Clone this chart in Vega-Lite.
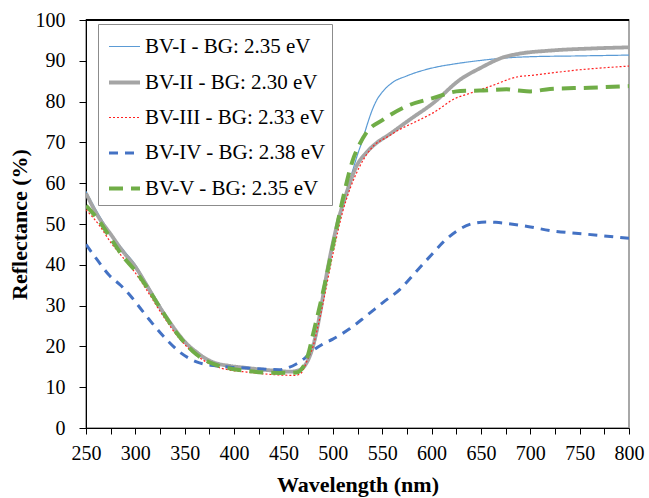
{
  "$schema": "https://vega.github.io/schema/vega-lite/v6.json",
  "width": 543,
  "height": 408,
  "autosize": {"type": "none"},
  "padding": {"left": 86, "top": 20, "right": 20, "bottom": 70},
  "background": "white",
  "config": {
    "font": "Liberation Serif",
    "view": {"stroke": "#8c8c8c", "strokeWidth": 1.5},
    "axis": {"grid": false, "domainColor": "#000000", "tickColor": "#000000", "labelColor": "#000000", "titleColor": "#000000", "labelFont": "Liberation Serif", "titleFont": "Liberation Serif"}
  },
  "data": {
    "values": [
      {"s": "BV-I - BG: 2.35 eV", "w": 250, "r": 58}, {"s": "BV-I - BG: 2.35 eV", "w": 260, "r": 53.5}, {"s": "BV-I - BG: 2.35 eV", "w": 270, "r": 49.5}, {"s": "BV-I - BG: 2.35 eV", "w": 280, "r": 46}, {"s": "BV-I - BG: 2.35 eV", "w": 290, "r": 43}, {"s": "BV-I - BG: 2.35 eV", "w": 300, "r": 40}, {"s": "BV-I - BG: 2.35 eV", "w": 310, "r": 36}, {"s": "BV-I - BG: 2.35 eV", "w": 320, "r": 32}, {"s": "BV-I - BG: 2.35 eV", "w": 330, "r": 28}, {"s": "BV-I - BG: 2.35 eV", "w": 340, "r": 24.2}, {"s": "BV-I - BG: 2.35 eV", "w": 350, "r": 21.2}, {"s": "BV-I - BG: 2.35 eV", "w": 360, "r": 19}, {"s": "BV-I - BG: 2.35 eV", "w": 370, "r": 17.2}, {"s": "BV-I - BG: 2.35 eV", "w": 380, "r": 16}, {"s": "BV-I - BG: 2.35 eV", "w": 390, "r": 15.3}, {"s": "BV-I - BG: 2.35 eV", "w": 400, "r": 14.8}, {"s": "BV-I - BG: 2.35 eV", "w": 420, "r": 14.5}, {"s": "BV-I - BG: 2.35 eV", "w": 440, "r": 14.2}, {"s": "BV-I - BG: 2.35 eV", "w": 455, "r": 13.8}, {"s": "BV-I - BG: 2.35 eV", "w": 465, "r": 14.2}, {"s": "BV-I - BG: 2.35 eV", "w": 472, "r": 15.5}, {"s": "BV-I - BG: 2.35 eV", "w": 478, "r": 18}, {"s": "BV-I - BG: 2.35 eV", "w": 484, "r": 23}, {"s": "BV-I - BG: 2.35 eV", "w": 490, "r": 32}, {"s": "BV-I - BG: 2.35 eV", "w": 500, "r": 45}, {"s": "BV-I - BG: 2.35 eV", "w": 510, "r": 55}, {"s": "BV-I - BG: 2.35 eV", "w": 515, "r": 59}, {"s": "BV-I - BG: 2.35 eV", "w": 520, "r": 63}, {"s": "BV-I - BG: 2.35 eV", "w": 525, "r": 67}, {"s": "BV-I - BG: 2.35 eV", "w": 530, "r": 70.5}, {"s": "BV-I - BG: 2.35 eV", "w": 535, "r": 74.5}, {"s": "BV-I - BG: 2.35 eV", "w": 540, "r": 78}, {"s": "BV-I - BG: 2.35 eV", "w": 545, "r": 80.6}, {"s": "BV-I - BG: 2.35 eV", "w": 550, "r": 82.3}, {"s": "BV-I - BG: 2.35 eV", "w": 560, "r": 84.6}, {"s": "BV-I - BG: 2.35 eV", "w": 575, "r": 86.3}, {"s": "BV-I - BG: 2.35 eV", "w": 600, "r": 88.2}, {"s": "BV-I - BG: 2.35 eV", "w": 625, "r": 89.3}, {"s": "BV-I - BG: 2.35 eV", "w": 650, "r": 90.1}, {"s": "BV-I - BG: 2.35 eV", "w": 675, "r": 90.7}, {"s": "BV-I - BG: 2.35 eV", "w": 700, "r": 91}, {"s": "BV-I - BG: 2.35 eV", "w": 750, "r": 91.2}, {"s": "BV-I - BG: 2.35 eV", "w": 800, "r": 91.4},

      {"s": "BV-II - BG: 2.30 eV", "w": 250, "r": 57.5}, {"s": "BV-II - BG: 2.30 eV", "w": 264, "r": 51.2}, {"s": "BV-II - BG: 2.30 eV", "w": 275, "r": 47.5}, {"s": "BV-II - BG: 2.30 eV", "w": 287, "r": 43.4}, {"s": "BV-II - BG: 2.30 eV", "w": 300, "r": 39.5}, {"s": "BV-II - BG: 2.30 eV", "w": 311, "r": 35.2}, {"s": "BV-II - BG: 2.30 eV", "w": 320, "r": 31.5}, {"s": "BV-II - BG: 2.30 eV", "w": 328, "r": 28.4}, {"s": "BV-II - BG: 2.30 eV", "w": 337, "r": 25.2}, {"s": "BV-II - BG: 2.30 eV", "w": 345, "r": 22.6}, {"s": "BV-II - BG: 2.30 eV", "w": 353, "r": 20.4}, {"s": "BV-II - BG: 2.30 eV", "w": 362, "r": 18.6}, {"s": "BV-II - BG: 2.30 eV", "w": 370, "r": 17.2}, {"s": "BV-II - BG: 2.30 eV", "w": 379, "r": 16.1}, {"s": "BV-II - BG: 2.30 eV", "w": 396, "r": 15.2}, {"s": "BV-II - BG: 2.30 eV", "w": 410, "r": 14.8}, {"s": "BV-II - BG: 2.30 eV", "w": 429, "r": 14.3}, {"s": "BV-II - BG: 2.30 eV", "w": 445, "r": 14}, {"s": "BV-II - BG: 2.30 eV", "w": 457, "r": 13.8}, {"s": "BV-II - BG: 2.30 eV", "w": 467, "r": 14.3}, {"s": "BV-II - BG: 2.30 eV", "w": 473, "r": 15.8}, {"s": "BV-II - BG: 2.30 eV", "w": 478, "r": 18.5}, {"s": "BV-II - BG: 2.30 eV", "w": 482, "r": 22}, {"s": "BV-II - BG: 2.30 eV", "w": 487, "r": 28}, {"s": "BV-II - BG: 2.30 eV", "w": 494, "r": 38}, {"s": "BV-II - BG: 2.30 eV", "w": 504, "r": 49.5}, {"s": "BV-II - BG: 2.30 eV", "w": 514, "r": 57.7}, {"s": "BV-II - BG: 2.30 eV", "w": 524, "r": 64.2}, {"s": "BV-II - BG: 2.30 eV", "w": 534, "r": 67.5}, {"s": "BV-II - BG: 2.30 eV", "w": 545, "r": 70}, {"s": "BV-II - BG: 2.30 eV", "w": 555, "r": 71.6}, {"s": "BV-II - BG: 2.30 eV", "w": 578, "r": 75.6}, {"s": "BV-II - BG: 2.30 eV", "w": 602, "r": 79.7}, {"s": "BV-II - BG: 2.30 eV", "w": 629, "r": 85.4}, {"s": "BV-II - BG: 2.30 eV", "w": 650, "r": 88.3}, {"s": "BV-II - BG: 2.30 eV", "w": 672, "r": 90.8}, {"s": "BV-II - BG: 2.30 eV", "w": 688, "r": 91.7}, {"s": "BV-II - BG: 2.30 eV", "w": 720, "r": 92.5}, {"s": "BV-II - BG: 2.30 eV", "w": 760, "r": 93}, {"s": "BV-II - BG: 2.30 eV", "w": 800, "r": 93.3},

      {"s": "BV-III - BG: 2.33 eV", "w": 250, "r": 53.5}, {"s": "BV-III - BG: 2.33 eV", "w": 264, "r": 49.5}, {"s": "BV-III - BG: 2.33 eV", "w": 275, "r": 45.5}, {"s": "BV-III - BG: 2.33 eV", "w": 287, "r": 41.9}, {"s": "BV-III - BG: 2.33 eV", "w": 300, "r": 38}, {"s": "BV-III - BG: 2.33 eV", "w": 311, "r": 34}, {"s": "BV-III - BG: 2.33 eV", "w": 328, "r": 27.5}, {"s": "BV-III - BG: 2.33 eV", "w": 345, "r": 21.8}, {"s": "BV-III - BG: 2.33 eV", "w": 362, "r": 17.8}, {"s": "BV-III - BG: 2.33 eV", "w": 379, "r": 15.3}, {"s": "BV-III - BG: 2.33 eV", "w": 396, "r": 14.2}, {"s": "BV-III - BG: 2.33 eV", "w": 413, "r": 13.7}, {"s": "BV-III - BG: 2.33 eV", "w": 446, "r": 13}, {"s": "BV-III - BG: 2.33 eV", "w": 462, "r": 12.9}, {"s": "BV-III - BG: 2.33 eV", "w": 468, "r": 13.5}, {"s": "BV-III - BG: 2.33 eV", "w": 474, "r": 16.5}, {"s": "BV-III - BG: 2.33 eV", "w": 480, "r": 20}, {"s": "BV-III - BG: 2.33 eV", "w": 485, "r": 25}, {"s": "BV-III - BG: 2.33 eV", "w": 490, "r": 30.5}, {"s": "BV-III - BG: 2.33 eV", "w": 500, "r": 42.5}, {"s": "BV-III - BG: 2.33 eV", "w": 510, "r": 53}, {"s": "BV-III - BG: 2.33 eV", "w": 518, "r": 59}, {"s": "BV-III - BG: 2.33 eV", "w": 527, "r": 64}, {"s": "BV-III - BG: 2.33 eV", "w": 541, "r": 69.1}, {"s": "BV-III - BG: 2.33 eV", "w": 555, "r": 71.3}, {"s": "BV-III - BG: 2.33 eV", "w": 568, "r": 73.2}, {"s": "BV-III - BG: 2.33 eV", "w": 585, "r": 75.2}, {"s": "BV-III - BG: 2.33 eV", "w": 602, "r": 77.3}, {"s": "BV-III - BG: 2.33 eV", "w": 625, "r": 80.9}, {"s": "BV-III - BG: 2.33 eV", "w": 636, "r": 81.8}, {"s": "BV-III - BG: 2.33 eV", "w": 660, "r": 83.8}, {"s": "BV-III - BG: 2.33 eV", "w": 688, "r": 86.1}, {"s": "BV-III - BG: 2.33 eV", "w": 700, "r": 86.4}, {"s": "BV-III - BG: 2.33 eV", "w": 750, "r": 87.8}, {"s": "BV-III - BG: 2.33 eV", "w": 800, "r": 88.7},

      {"s": "BV-IV - BG: 2.38 eV", "w": 250, "r": 45}, {"s": "BV-IV - BG: 2.38 eV", "w": 262, "r": 41}, {"s": "BV-IV - BG: 2.38 eV", "w": 274, "r": 37.3}, {"s": "BV-IV - BG: 2.38 eV", "w": 285, "r": 35}, {"s": "BV-IV - BG: 2.38 eV", "w": 295, "r": 32.4}, {"s": "BV-IV - BG: 2.38 eV", "w": 311, "r": 27.5}, {"s": "BV-IV - BG: 2.38 eV", "w": 328, "r": 22.6}, {"s": "BV-IV - BG: 2.38 eV", "w": 345, "r": 18.6}, {"s": "BV-IV - BG: 2.38 eV", "w": 362, "r": 16.2}, {"s": "BV-IV - BG: 2.38 eV", "w": 379, "r": 15.3}, {"s": "BV-IV - BG: 2.38 eV", "w": 396, "r": 14.9}, {"s": "BV-IV - BG: 2.38 eV", "w": 413, "r": 14.7}, {"s": "BV-IV - BG: 2.38 eV", "w": 446, "r": 14.3}, {"s": "BV-IV - BG: 2.38 eV", "w": 455, "r": 14.8}, {"s": "BV-IV - BG: 2.38 eV", "w": 463, "r": 15.7}, {"s": "BV-IV - BG: 2.38 eV", "w": 472, "r": 17.2}, {"s": "BV-IV - BG: 2.38 eV", "w": 480, "r": 19}, {"s": "BV-IV - BG: 2.38 eV", "w": 490, "r": 20.6}, {"s": "BV-IV - BG: 2.38 eV", "w": 500, "r": 21.8}, {"s": "BV-IV - BG: 2.38 eV", "w": 517, "r": 24.3}, {"s": "BV-IV - BG: 2.38 eV", "w": 534, "r": 27.5}, {"s": "BV-IV - BG: 2.38 eV", "w": 551, "r": 30.8}, {"s": "BV-IV - BG: 2.38 eV", "w": 568, "r": 34}, {"s": "BV-IV - BG: 2.38 eV", "w": 585, "r": 38.5}, {"s": "BV-IV - BG: 2.38 eV", "w": 602, "r": 43}, {"s": "BV-IV - BG: 2.38 eV", "w": 612, "r": 45.6}, {"s": "BV-IV - BG: 2.38 eV", "w": 625, "r": 48.2}, {"s": "BV-IV - BG: 2.38 eV", "w": 640, "r": 50}, {"s": "BV-IV - BG: 2.38 eV", "w": 655, "r": 50.5}, {"s": "BV-IV - BG: 2.38 eV", "w": 665, "r": 50.4}, {"s": "BV-IV - BG: 2.38 eV", "w": 690, "r": 49.7}, {"s": "BV-IV - BG: 2.38 eV", "w": 723, "r": 48.3}, {"s": "BV-IV - BG: 2.38 eV", "w": 757, "r": 47.5}, {"s": "BV-IV - BG: 2.38 eV", "w": 800, "r": 46.5},

      {"s": "BV-V - BG: 2.35 eV", "w": 250, "r": 54.5}, {"s": "BV-V - BG: 2.35 eV", "w": 264, "r": 50.5}, {"s": "BV-V - BG: 2.35 eV", "w": 275, "r": 46.5}, {"s": "BV-V - BG: 2.35 eV", "w": 287, "r": 42.2}, {"s": "BV-V - BG: 2.35 eV", "w": 300, "r": 38.5}, {"s": "BV-V - BG: 2.35 eV", "w": 311, "r": 34.8}, {"s": "BV-V - BG: 2.35 eV", "w": 328, "r": 28.3}, {"s": "BV-V - BG: 2.35 eV", "w": 345, "r": 22.3}, {"s": "BV-V - BG: 2.35 eV", "w": 362, "r": 18}, {"s": "BV-V - BG: 2.35 eV", "w": 379, "r": 15.7}, {"s": "BV-V - BG: 2.35 eV", "w": 396, "r": 14.6}, {"s": "BV-V - BG: 2.35 eV", "w": 413, "r": 14}, {"s": "BV-V - BG: 2.35 eV", "w": 446, "r": 13.5}, {"s": "BV-V - BG: 2.35 eV", "w": 463, "r": 13.6}, {"s": "BV-V - BG: 2.35 eV", "w": 470, "r": 15}, {"s": "BV-V - BG: 2.35 eV", "w": 475, "r": 18}, {"s": "BV-V - BG: 2.35 eV", "w": 480, "r": 23}, {"s": "BV-V - BG: 2.35 eV", "w": 490, "r": 33.2}, {"s": "BV-V - BG: 2.35 eV", "w": 500, "r": 44.6}, {"s": "BV-V - BG: 2.35 eV", "w": 510, "r": 56}, {"s": "BV-V - BG: 2.35 eV", "w": 520, "r": 65.5}, {"s": "BV-V - BG: 2.35 eV", "w": 527, "r": 69.5}, {"s": "BV-V - BG: 2.35 eV", "w": 534, "r": 72.4}, {"s": "BV-V - BG: 2.35 eV", "w": 551, "r": 75.6}, {"s": "BV-V - BG: 2.35 eV", "w": 575, "r": 78.9}, {"s": "BV-V - BG: 2.35 eV", "w": 602, "r": 80.9}, {"s": "BV-V - BG: 2.35 eV", "w": 629, "r": 82.6}, {"s": "BV-V - BG: 2.35 eV", "w": 649, "r": 82.7}, {"s": "BV-V - BG: 2.35 eV", "w": 676, "r": 83}, {"s": "BV-V - BG: 2.35 eV", "w": 688, "r": 82.7}, {"s": "BV-V - BG: 2.35 eV", "w": 700, "r": 82.5}, {"s": "BV-V - BG: 2.35 eV", "w": 720, "r": 83.1}, {"s": "BV-V - BG: 2.35 eV", "w": 760, "r": 83.4}, {"s": "BV-V - BG: 2.35 eV", "w": 800, "r": 83.8}
    ]
  },
  "layer": [
    {
      "mark": {"type": "line", "interpolate": "monotone", "clip": true},
      "encoding": {
        "x": {
          "field": "w", "type": "quantitative",
          "scale": {"domain": [250, 800], "nice": false, "zero": false},
          "axis": {
            "title": "Wavelength (nm)",
            "values": [250, 275, 300, 325, 350, 375, 400, 425, 450, 475, 500, 525, 550, 575, 600, 625, 650, 675, 700, 725, 750, 775, 800],
            "labelExpr": "datum.value % 50 === 0 ? datum.label : ''",
            "labelFontSize": 20, "labelPadding": 9, "labelFlush": false, "labelOverlap": false,
            "tickSize": 6, "tickWidth": 1, "domainWidth": 1,
            "titleFontSize": 22, "titleFontWeight": "bold", "titleBaseline": "alphabetic", "titleY": 63
          }
        },
        "y": {
          "field": "r", "type": "quantitative",
          "scale": {"domain": [0, 100], "nice": false},
          "axis": {
            "title": "Reflectance (%)",
            "values": [0, 5, 10, 15, 20, 25, 30, 35, 40, 45, 50, 55, 60, 65, 70, 75, 80, 85, 90, 95, 100],
            "labelExpr": "datum.value % 10 === 0 ? datum.label : ''",
            "labelFontSize": 20, "labelPadding": 14, "labelFlush": false, "labelOverlap": false,
            "tickSize": 7, "tickWidth": 1, "domainWidth": 1,
            "titleFontSize": 22, "titleFontWeight": "bold", "titleBaseline": "alphabetic", "titleX": -60, "titleY": 204
          }
        },
        "color": {
          "field": "s", "type": "nominal",
          "scale": {
            "domain": ["BV-I - BG: 2.35 eV", "BV-II - BG: 2.30 eV", "BV-III - BG: 2.33 eV", "BV-IV - BG: 2.38 eV", "BV-V - BG: 2.35 eV"],
            "range": ["#5B9BD5", "#A5A5A5", "#FF2020", "#4472C4", "#70AD47"]
          },
          "legend": {
            "title": null, "orient": "none", "legendX": 12, "legendY": 4,
            "strokeColor": "#8c8c8c", "fillColor": "white", "padding": 6,
            "symbolType": "stroke", "symbolSize": 961, "symbolOffset": 3,
            "labelFontSize": 21, "labelFont": "Liberation Serif", "labelColor": "#000000", "labelLimit": 0,
            "labelOffset": 3, "rowPadding": 8
          }
        },
        "strokeDash": {
          "field": "s", "type": "nominal",
          "scale": {
            "domain": ["BV-I - BG: 2.35 eV", "BV-II - BG: 2.30 eV", "BV-III - BG: 2.33 eV", "BV-IV - BG: 2.38 eV", "BV-V - BG: 2.35 eV"],
            "range": [[1, 0], [1, 0], [2, 2], [9, 7], [14, 8]]
          }
        },
        "strokeWidth": {
          "field": "s", "type": "ordinal",
          "scale": {
            "type": "ordinal",
            "domain": ["BV-I - BG: 2.35 eV", "BV-II - BG: 2.30 eV", "BV-III - BG: 2.33 eV", "BV-IV - BG: 2.38 eV", "BV-V - BG: 2.35 eV"],
            "range": [1.2, 3.8, 1.2, 3, 4]
          }
        }
      }
    },
    {
      "mark": {"type": "rule", "color": "#000000", "strokeWidth": 1.5},
      "encoding": {"y": {"datum": 100}}
    }
  ]
}
